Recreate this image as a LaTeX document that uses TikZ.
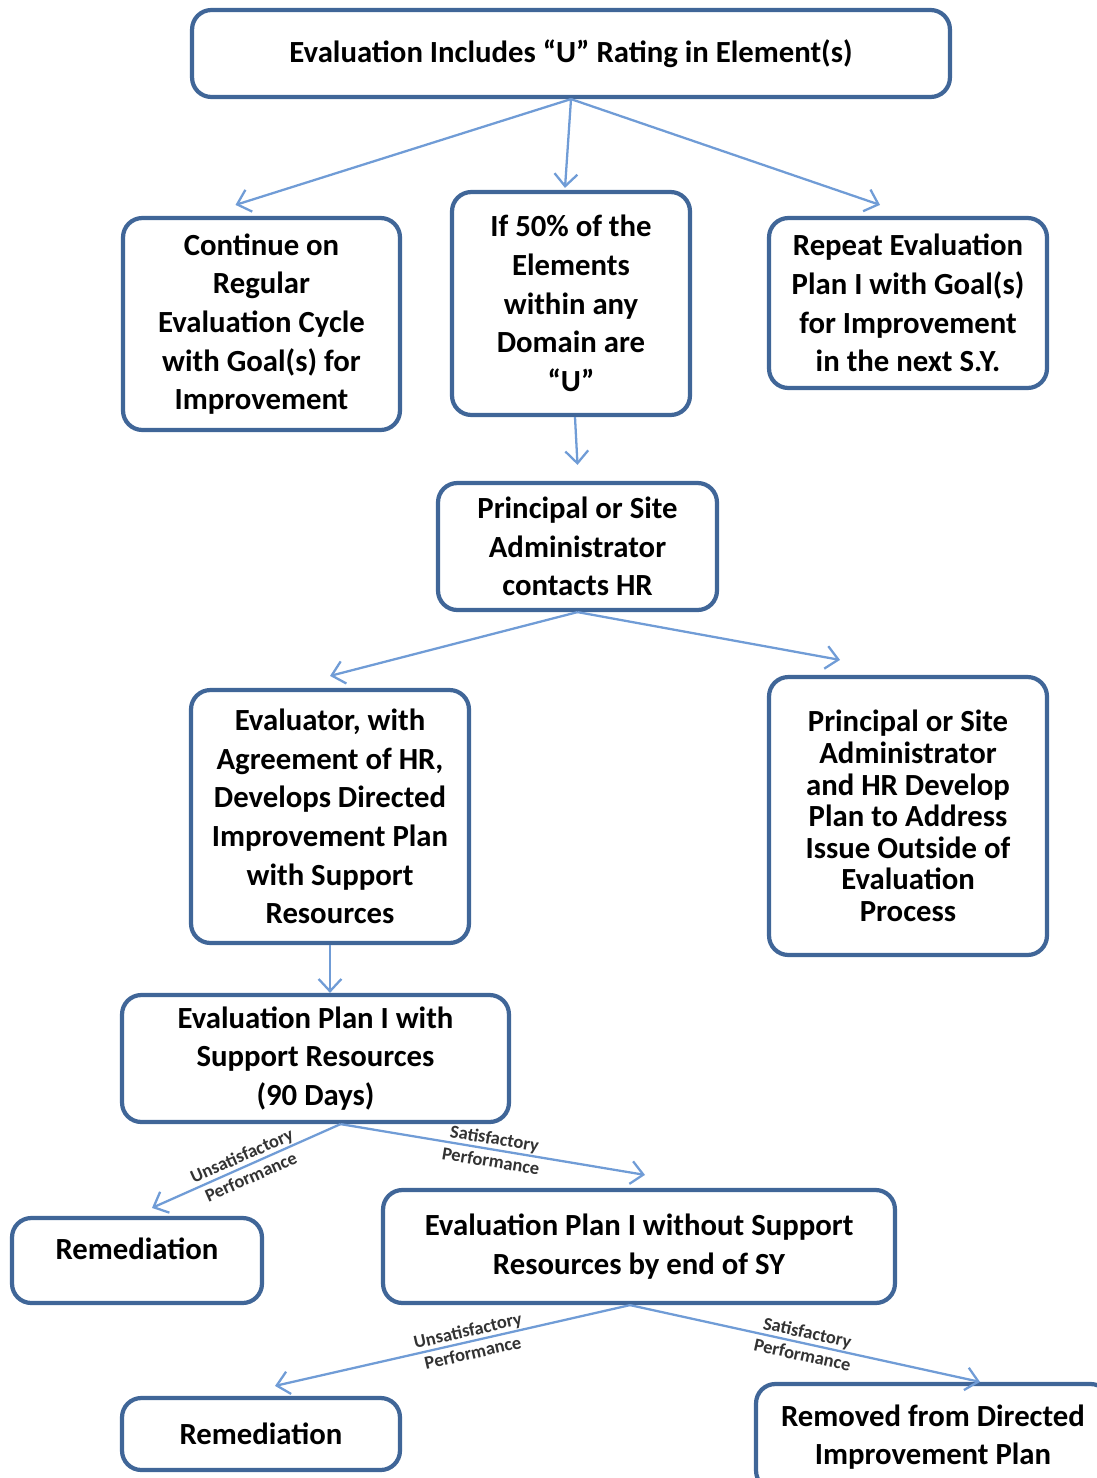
\documentclass[tikz,border=0pt]{standalone}
\usepackage{fontspec}
\setmainfont{Carlito}
\usetikzlibrary{arrows.meta}
\definecolor{boxblue}{RGB}{64,102,152}
\definecolor{arrowblue}{RGB}{112,156,214}

\begin{document}
\begin{tikzpicture}[x=0.02cm,y=-0.02cm,>={Straight Barb[length=7pt,width=13pt]},
    stepbox/.style={draw=boxblue,line width=2.4pt,rounded corners=11pt,align=center,inner sep=0pt,font=\fontsize{17.5}{22}\selectfont\bfseries},
    flow/.style={->,arrowblue,line width=1.3pt},
    perf/.style={font=\fontsize{10.5}{13}\selectfont\bfseries,sloped,align=center,text=black!80}]
                \useasboundingbox (0,0) rectangle (1096,1478);
                \node[stepbox,minimum width=15.16cm,minimum height=1.74cm] (top) at (571,53.5) {Evaluation Includes “U” Rating in Element(s)};
                \node[stepbox,minimum width=5.54cm,minimum height=4.24cm] (cont) at (261.5,324) {Continue on\\Regular\\Evaluation Cycle\\with Goal(s) for\\Improvement};
                \node[stepbox,minimum width=4.76cm,minimum height=4.46cm] (fifty) at (571,303.5) {If 50\% of the\\Elements\\within any\\Domain are\\“U”};
                \node[stepbox,minimum width=5.56cm,minimum height=3.4cm] (repeat) at (908,303) {Repeat Evaluation\\Plan I with Goal(s)\\for Improvement\\in the next S.Y.};
                \node[stepbox,minimum width=5.58cm,minimum height=2.54cm] (hr) at (577.5,546.5) {Principal or Site\\Administrator\\contacts HR};
                \node[stepbox,minimum width=5.56cm,minimum height=5.06cm] (evaluator) at (330,816.5) {Evaluator, with\\Agreement of HR,\\Develops Directed\\Improvement Plan\\with Support\\Resources};
                \node[stepbox,minimum width=5.56cm,minimum height=5.56cm,font=\fontsize{17.5}{18}\selectfont\bfseries] (develop) at (908,816) {Principal or Site\\Administrator\\and HR Develop\\Plan to Address\\Issue Outside of\\Evaluation\\Process};
                \node[stepbox,minimum width=7.74cm,minimum height=2.54cm] (planwith) at (315.5,1058.5) {Evaluation Plan I with\\Support Resources\\(90 Days)};
                \node[stepbox,minimum width=5cm,minimum height=1.7cm,text depth=14pt] (remfirst) at (137,1260.5) {Remediation};
                \node[stepbox,minimum width=10.24cm,minimum height=2.26cm] (planwithout) at (639,1246.5) {Evaluation Plan I without Support\\Resources by end of SY};
                \node[stepbox,minimum width=5.56cm,minimum height=1.44cm] (remsecond) at (261,1434) {Remediation};
                \node[stepbox,minimum width=7.08cm,minimum height=2.12cm] (removed) at (933,1437) {Removed from Directed\\Improvement Plan};
                \draw[flow] (top.south) -- ([shift={(-26,-11)}]cont.north);
                \draw[flow] (top.south) -- ([shift={(-6,-2)}]fifty.north);
                \draw[flow] (top.south) -- ([shift={(-28,-11)}]repeat.north);
                \draw[flow] ([shift={(4,0)}]fifty.south) -- ([shift={(0,-16)}]hr.north);
                \draw[flow] (hr.south) -- ([shift={(0,-12)}]evaluator.north);
                \draw[flow] (hr.south) -- ([shift={(-68,-15)}]develop.north);
                \draw[flow] (evaluator.south) -- (evaluator.south |- planwith.north);
                \draw[flow] ([shift={(25,0)}]planwith.south) -- node[perf]{Unsatisfactory\\Performance} ([shift={(15,-8)}]remfirst.north);
                \draw[flow] ([shift={(25,0)}]planwith.south) -- node[perf]{Satisfactory\\Performance} ([shift={(6,-13)}]planwithout.north);
                \draw[flow] ([shift={(-9,0)}]planwithout.south) -- node[perf,pos=0.45]{Unsatisfactory\\Performance} ([shift={(14,-10)}]remsecond.north);
                \draw[flow] ([shift={(-9,0)}]planwithout.south) -- node[perf]{Satisfactory\\Performance} ([shift={(47,0)}]removed.north);
            \end{tikzpicture}
\end{document}
